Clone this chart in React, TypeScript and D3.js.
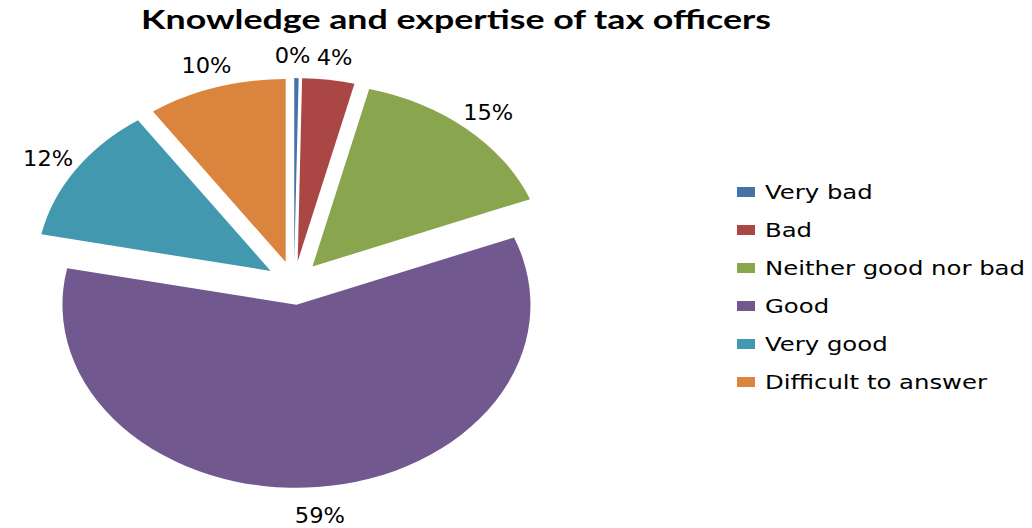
import React from "react";
import * as d3 from "d3";

const categories = ["Very bad", "Bad", "Neither good nor bad", "Good", "Very good", "Difficult to answer"];
const values = [0.3, 3.6, 15.1, 59.2, 12.2, 9.6];
const labels = ["0%", "4%", "15%", "59%", "12%", "10%"];
const colors = ["#4572A7", "#AA4643", "#89A54E", "#71588F", "#4198AF", "#DB843D"];
const title = "Knowledge and expertise of tax officers";

const W = 1032;
const H = 528;
const cx = 294;
const cy = 283;
const R = 234;
const K = 183 / 234;
const EXPLODE = 28;
const LABEL_F = 1.14;
const LFS = 20.5;
const LSX = 1.1;

export default function App() {
  const pie = d3.pie<number>().sort(null).value((d) => d).startAngle(0).endAngle(2 * Math.PI);
  const arcs = pie(values);
  const arcGen = d3.arc<d3.PieArcDatum<number>>().innerRadius(0).outerRadius(R);

  const legendY = d3.scalePoint<string>().domain(categories).range([192, 382]);

  // label positions with a simple horizontal de-overlap between neighbours
  const pos = arcs.map((a, i) => {
    const m = (a.startAngle + a.endAngle) / 2;
    const r = EXPLODE + R * LABEL_F;
    return {
      x: cx + r * Math.sin(m),
      y: cy - r * K * Math.cos(m) + 3,
      w: labels[i].length * 0.8 * LFS * LSX,
    };
  });
  for (let i = 0; i < pos.length - 1; i++) {
    const a = pos[i];
    const b = pos[i + 1];
    if (Math.abs(a.y - b.y) < LFS) {
      const gap = b.x - a.x - (a.w + b.w) / 2;
      if (gap < 6) {
        const s = (6 - gap) / 2;
        a.x -= s * 1.4;
        b.x += s * 0.6;
      }
    }
  }

  return (
    <svg width={W} height={H} style={{ position: "absolute", left: 0, top: 0, background: "#fff" }}>
      <text
        x={456}
        y={29}
        textAnchor="middle"
        fontFamily="Lato, 'Open Sans', sans-serif"
        fontWeight={700}
        fontSize={27.5}
        textLength={630}
        lengthAdjust="spacingAndGlyphs"
        fill="#000"
      >
        {title}
      </text>
      <g transform={`translate(${cx},${cy}) scale(1,${K})`}>
        {arcs.map((a, i) => {
          const m = (a.startAngle + a.endAngle) / 2;
          const dx = EXPLODE * Math.sin(m);
          const dy = -EXPLODE * Math.cos(m);
          return (
            <path key={i} d={arcGen(a) || ""} transform={`translate(${dx},${dy})`} fill={colors[i]} />
          );
        })}
      </g>
      {pos.map((p, i) => (
        <text
          key={i}
          transform={`translate(${p.x},${p.y}) scale(${LSX},1)`}
          textAnchor="middle"
          dy="0.36em"
          fontFamily="'DejaVu Sans', Verdana, sans-serif"
          fontSize={LFS}
          fill="#000"
        >
          {labels[i]}
        </text>
      ))}
      {categories.map((c, i) => {
        const y = legendY(c) as number;
        return (
          <g key={c}>
            <rect x={737} y={y - 5} width={18} height={10} fill={colors[i]} />
            <text
              transform={`translate(765,${y}) scale(1.31,1)`}
              dy="0.36em"
              fontFamily="'DejaVu Sans', Verdana, sans-serif"
              fontSize={18.6}
              fill="#000"
            >
              {c}
            </text>
          </g>
        );
      })}
    </svg>
  );
}
